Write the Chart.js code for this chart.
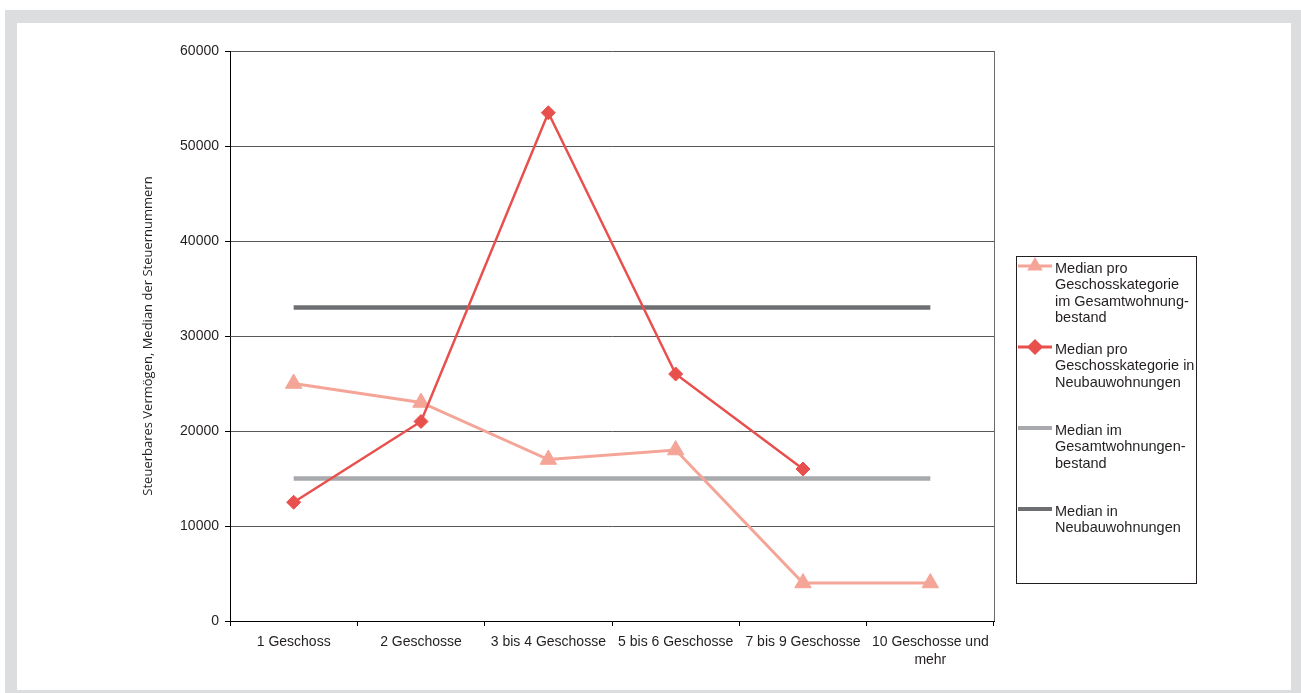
<!DOCTYPE html>
<html>
<head>
<meta charset="utf-8">
<script src="https://cdn.jsdelivr.net/npm/chart.js@4.4.1/dist/chart.umd.min.js"></script>
<style>
  html, body { margin: 0; padding: 0; background: #ffffff; width: 1301px; height: 693px; overflow: hidden; }
  #frame { position: absolute; left: 5px; top: 10px; width: 1296px; height: 683px; background: #dcdddf; }
  #inner { position: absolute; left: 12px; top: 13px; width: 1274px; height: 667px; background: #ffffff; }
  #c { position: absolute; left: 0; top: 0; }
</style>
</head>
<body>
<div id="frame"><div id="inner"></div></div>
<canvas id="c" width="1301" height="693"></canvas>
<script>
// ---- data ----
const categories = ['1 Geschoss', '2 Geschosse', '3 bis 4 Geschosse', '5 bis 6 Geschosse', '7 bis 9 Geschosse', ['10 Geschosse und', 'mehr']];
const medianGesamtProKategorie = [25000, 23000, 17000, 18000, 4000, 4000];
const medianNeubauProKategorie = [12500, 21000, 53500, 26000, 16000, null];
const medianGesamt = [15000, 15000, 15000, 15000, 15000, 15000];
const medianNeubau = [33000, 33000, 33000, 33000, 33000, 33000];
const yTicks = [0, 10000, 20000, 30000, 40000, 50000, 60000];
const yTitle = 'Steuerbares Vermögen, Median der Steuernummern';
const legendLabels = [
  ['Median pro', 'Geschosskategorie', 'im Gesamtwohnung-', 'bestand'],
  ['Median pro', 'Geschosskategorie in', 'Neubauwohnungen'],
  ['Median im', 'Gesamtwohnungen-', 'bestand'],
  ['Median in', 'Neubauwohnungen']
];

const PINK = '#f4a597';
const RED = '#e8504d';
const LGRAY = '#a7a9ac';
const DGRAY = '#6d6e71';

const legendPlugin = {
  id: 'customLegend',
  afterDraw(chart) {
    const ctx = chart.ctx;
    ctx.save();
    ctx.strokeStyle = '#231f20';
    ctx.lineWidth = 1;
    ctx.strokeRect(1016.5, 256.5, 180, 327);
    const firstY = [269, 350, 431, 512];
    const lh = 16.4;
    ctx.font = '14.5px "Liberation Sans", Arial, sans-serif';
    ctx.textBaseline = 'middle';
    ctx.textAlign = 'left';
    chart.data.datasets.forEach((ds, i) => {
      const y0 = firstY[i];
      const ly = y0 - 3;
      ctx.strokeStyle = ds.borderColor;
      ctx.lineWidth = ds.legendLineWidth;
      ctx.beginPath();
      ctx.moveTo(1018, ly);
      ctx.lineTo(1052, ly);
      ctx.stroke();
      if (ds.pointStyle && ds.pointRadius > 0) {
        ctx.fillStyle = ds.pointBackgroundColor;
        ctx.strokeStyle = ds.pointBorderColor;
        Chart.helpers.drawPoint(ctx, { pointStyle: ds.pointStyle, radius: 6, borderWidth: 1, rotation: 0 }, 1035, ly);
        ctx.fill();
      }
      ctx.fillStyle = '#231f20';
      legendLabels[i].forEach((t, j) => ctx.fillText(t, 1055, y0 + j * lh));
    });
    const a = chart.chartArea;
    ctx.strokeStyle = '#6a6a6a';
    ctx.lineWidth = 1;
    ctx.beginPath();
    ctx.moveTo(Math.round(a.right) + 0.5, a.top);
    ctx.lineTo(Math.round(a.right) + 0.5, a.bottom);
    ctx.stroke();
    ctx.restore();
  }
};

new Chart(document.getElementById('c'), {
  type: 'line',
  data: {
    labels: categories,
    datasets: [
      {
        label: legendLabels[0].join(' '),
        data: medianGesamtProKategorie,
        borderColor: PINK, backgroundColor: PINK,
        pointBackgroundColor: PINK, pointBorderColor: PINK,
        borderWidth: 3, legendLineWidth: 3,
        pointStyle: 'triangle', pointRadius: 9.5, pointBorderWidth: 1,
        tension: 0, order: 1
      },
      {
        label: legendLabels[1].join(' '),
        data: medianNeubauProKategorie,
        borderColor: RED, backgroundColor: RED,
        pointBackgroundColor: RED, pointBorderColor: RED,
        borderWidth: 2.5, legendLineWidth: 3,
        pointStyle: 'rectRot', pointRadius: 7, pointBorderWidth: 1,
        tension: 0, order: 0
      },
      {
        label: legendLabels[2].join(' '),
        data: medianGesamt,
        borderColor: LGRAY, backgroundColor: LGRAY,
        pointBackgroundColor: LGRAY, pointBorderColor: LGRAY,
        borderWidth: 4.5, legendLineWidth: 4,
        pointRadius: 0, pointStyle: false,
        tension: 0, order: 2
      },
      {
        label: legendLabels[3].join(' '),
        data: medianNeubau,
        borderColor: DGRAY, backgroundColor: DGRAY,
        pointBackgroundColor: DGRAY, pointBorderColor: DGRAY,
        borderWidth: 4.5, legendLineWidth: 4,
        pointRadius: 0, pointStyle: false,
        tension: 0, order: 3
      }
    ]
  },
  options: {
    responsive: false,
    devicePixelRatio: 1,
    animation: false,
    spanGaps: false,
    layout: { padding: { left: 136, right: 307, top: 51, bottom: 0 } },
    plugins: { legend: { display: false }, tooltip: { enabled: false } },
    scales: {
      x: {
        offset: true,
        afterFit(s) { s.height = 72; },
        grid: { display: true, offset: true, drawOnChartArea: false, drawTicks: true, tickLength: 5, tickColor: '#000', lineWidth: 1 },
        border: { display: true, color: '#000', width: 1 },
        ticks: {
          maxRotation: 0, minRotation: 0, autoSkip: false, padding: 7,
          color: '#231f20',
          font: { family: '"Liberation Sans", Arial, sans-serif', size: 14, lineHeight: 1.29 }
        }
      },
      y: {
        min: 0, max: 60000,
        afterFit(s) { s.width = 94; },
        afterBuildTicks(s) { s.ticks = yTicks.map(v => ({ value: v })); },
        grid: { color: '#585858', lineWidth: 1, drawTicks: true, tickLength: 5, tickColor: '#000' },
        border: { display: true, color: '#000', width: 1 },
        ticks: {
          padding: 6, color: '#231f20',
          font: { family: '"Liberation Sans", Arial, sans-serif', size: 14 },
          callback: v => String(v)
        },
        title: {
          display: true, text: yTitle, color: '#231f20',
          padding: { top: 4, bottom: 0 },
          font: { family: '"Open Sans", sans-serif', size: 13, lineHeight: 1.2 }
        }
      }
    }
  },
  plugins: [legendPlugin]
});
</script>
</body>
</html>
